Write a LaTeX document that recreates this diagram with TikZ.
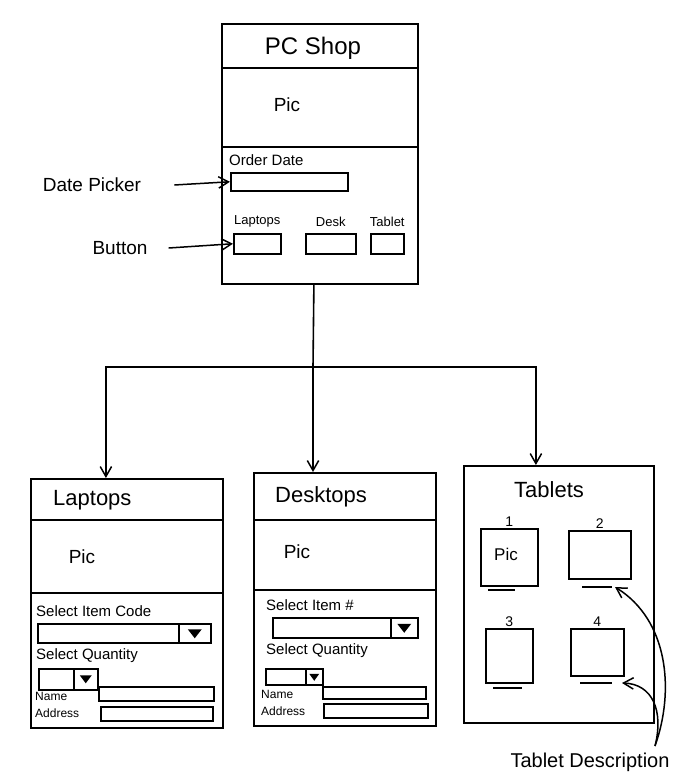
\documentclass[tikz,border=0pt]{standalone}
\usepackage{fontspec}
\setmainfont{Liberation Sans}
\usetikzlibrary{arrows.meta,positioning}

\begin{document}
\begin{tikzpicture}[
x=1pt, y=-1pt,
screen/.style={draw, line width=1.8pt, inner sep=0pt, anchor=north west},
field/.style={draw, line width=1.5pt, inner sep=0pt, anchor=north west},
btn/.style={draw, line width=1.5pt, inner sep=0pt, anchor=north east},
wire/.style={line width=1.6pt},
arr/.style={-{Straight Barb[length=3.5mm,width=4mm]}, line width=1.5pt},
ttl/.style={inner sep=1pt, font=\fontsize{22}{24}\selectfont},
pic/.style={inner sep=1pt, font=\fontsize{19}{21}\selectfont},
lbl/.style={inner sep=1pt, anchor=west, font=\fontsize{15}{17}\selectfont},
small/.style={inner sep=1pt, font=\fontsize{12}{13}\selectfont},
num/.style={inner sep=1pt, font=\fontsize{14}{15}\selectfont},
note/.style={inner sep=1pt, font=\fontsize{19}{21}\selectfont}
]
\useasboundingbox (0,0) rectangle (700,784);

% main screen
\node[screen, minimum width=196pt, minimum height=260pt] (shop) at (221,23) {};
\draw[wire] (shop.west |- 0,68) -- (shop.east |- 0,68);
\draw[wire] (shop.west |- 0,147) -- (shop.east |- 0,147);
\node[ttl, font=\fontsize{24}{26}\selectfont] (shopttl) at (313,48) {PC Shop};
\node[pic] (shoppic) at (287,105) {Pic};
\node[lbl] (ordlbl) at (228,160) {Order Date};
\node[field, minimum width=117pt, minimum height=18pt] (datefld) at (230,172) {};
\node[field, minimum width=47pt, minimum height=20pt] (btnlap) at (233,233) {};
\node[field, minimum width=50pt, minimum height=20pt] (btndesk) at (305,233) {};
\node[field, minimum width=33pt, minimum height=20pt] (btntab) at (370,233) {};
\node[small, font=\fontsize{13}{14}\selectfont, above=5pt of btnlap] (blap) {Laptops};
\node[small, font=\fontsize{13}{14}\selectfont, above=5pt of btndesk] (bdesk) {Desk};
\node[small, font=\fontsize{13}{14}\selectfont, above=5pt of btntab] (btab) {Tablet};

% callouts
\node[note] (dplbl) at (92,185) {Date Picker};
\node[note] (btnlbl) at (120,248) {Button};
\draw[arr] ([xshift=32pt]dplbl.east) -- (datefld.west);
\draw[arr] ([xshift=20pt]btnlbl.east) -- (btnlap.west);

% laptops screen
\node[screen, minimum width=192pt, minimum height=249pt] (lap) at (30,478) {};
\draw[wire] (lap.west |- 0,520) -- (lap.east |- 0,520);
\draw[wire] (lap.west |- 0,593) -- (lap.east |- 0,593);
\node[ttl, anchor=west] (lapttl) at (52,500) {Laptops};
\node[pic] (lappic) at (82,557) {Pic};
\node[lbl] (lapcodelbl) at (35,611) {Select Item Code};
\node[field, minimum width=173pt, minimum height=19pt] (lapcode) at (37,623) {};
\node[btn, minimum width=32pt, minimum height=19pt] (lapcodebtn) at (lapcode.north east) {};
\fill ([shift={(-7,-4)}]lapcodebtn.center) -- ([shift={(7,-4)}]lapcodebtn.center) -- ([shift={(0,5)}]lapcodebtn.center) -- cycle;
\node[lbl] (lapqtylbl) at (35,656) {Select Quantity};
\node[field, minimum width=59pt, minimum height=21pt] (lapqty) at (38,668) {};
\node[btn, minimum width=24pt, minimum height=21pt] (lapqtybtn) at (lapqty.north east) {};
\fill ([shift={(-6,-4)}]lapqtybtn.center) -- ([shift={(6,-4)}]lapqtybtn.center) -- ([shift={(0,4)}]lapqtybtn.center) -- cycle;
\node[small, anchor=west] (lapnamelbl) at (34,696) {Name};
\node[field, minimum width=115pt, minimum height=14pt] (lapname) at (98,686) {};
\node[small, anchor=west] (lapaddrlbl) at (34,713) {Address};
\node[field, minimum width=112pt, minimum height=14pt] (lapaddr) at (100,706) {};

% desktops screen
\node[screen, minimum width=182pt, minimum height=253pt] (desk) at (253,472) {};
\draw[wire] (desk.west |- 0,520) -- (desk.east |- 0,520);
\draw[wire] (desk.west |- 0,590) -- (desk.east |- 0,590);
\node[ttl, anchor=west] (deskttl) at (274,497) {Desktops};
\node[pic] (deskpic) at (297,552) {Pic};
\node[lbl] (deskcodelbl) at (265,605) {Select Item \#};
\node[field, minimum width=145pt, minimum height=20pt] (deskcode) at (272,617) {};
\node[btn, minimum width=27pt, minimum height=20pt] (deskcodebtn) at (deskcode.north east) {};
\fill ([shift={(-7,-4)}]deskcodebtn.center) -- ([shift={(7,-4)}]deskcodebtn.center) -- ([shift={(0,5)}]deskcodebtn.center) -- cycle;
\node[lbl] (deskqtylbl) at (265,651) {Select Quantity};
\node[field, minimum width=57pt, minimum height=16pt] (deskqty) at (265,668) {};
\node[btn, minimum width=17pt, minimum height=16pt] (deskqtybtn) at (deskqty.north east) {};
\fill ([shift={(-5,-3)}]deskqtybtn.center) -- ([shift={(5,-3)}]deskqtybtn.center) -- ([shift={(0,4)}]deskqtybtn.center) -- cycle;
\node[small, anchor=west] (desknamelbl) at (260,694) {Name};
\node[field, minimum width=103pt, minimum height=12pt] (deskname) at (322,686) {};
\node[small, anchor=west] (deskaddrlbl) at (260,711) {Address};
\node[field, minimum width=104pt, minimum height=14pt] (deskaddr) at (323,703) {};

% tablets screen
\node[screen, minimum width=190pt, minimum height=257pt] (tab) at (463,465) {};
\node[ttl] (tabttl) at (549,490) {Tablets};
\node[field, minimum width=57pt, minimum height=57pt, label={[num]above:1}] (t1) at (480,528) {};
\node[field, minimum width=62pt, minimum height=48pt, label={[num]above:2}] (t2) at (568,530) {};
\node[field, minimum width=47pt, minimum height=54pt, label={[num]above:3}] (t3) at (485,628) {};
\node[field, minimum width=53pt, minimum height=47pt, label={[num]above:4}] (t4) at (570,628) {};
\node[pic, font=\fontsize{17}{19}\selectfont] (tabpic) at (506,554) {Pic};
\coordinate (u1) at (515,590);
\coordinate (u2) at (612,587);
\coordinate (u3) at (522,688);
\coordinate (u4) at (612,683);
\draw[wire] (488,590) -- (u1);
\draw[wire] (582,587) -- (u2);
\draw[wire] (493,688) -- (u3);
\draw[wire] (580,683) -- (u4);

% flow
\coordinate (jn) at (313,367);
\draw[wire] ([xshift=-6pt]shop.south) -- (jn);
\draw[arr] (jn) -- (jn |- desk.north);
\draw[arr] (jn) -| ([xshift=-21pt]lap.north);
\draw[arr] (jn) -| ([xshift=-23pt]tab.north);

% description note
\node[note, font=\fontsize{20}{22}\selectfont] (tdesc) at (590,762) {Tablet Description};
\coordinate (tsrc) at (655,746);
\draw[arr] (tsrc) .. controls (675,690) and (668,620) .. ([xshift=3pt]u2);
\draw[arr] (tsrc) .. controls (664,710) and (652,684) .. ([xshift=10pt]u4);
\end{tikzpicture}
\end{document}
